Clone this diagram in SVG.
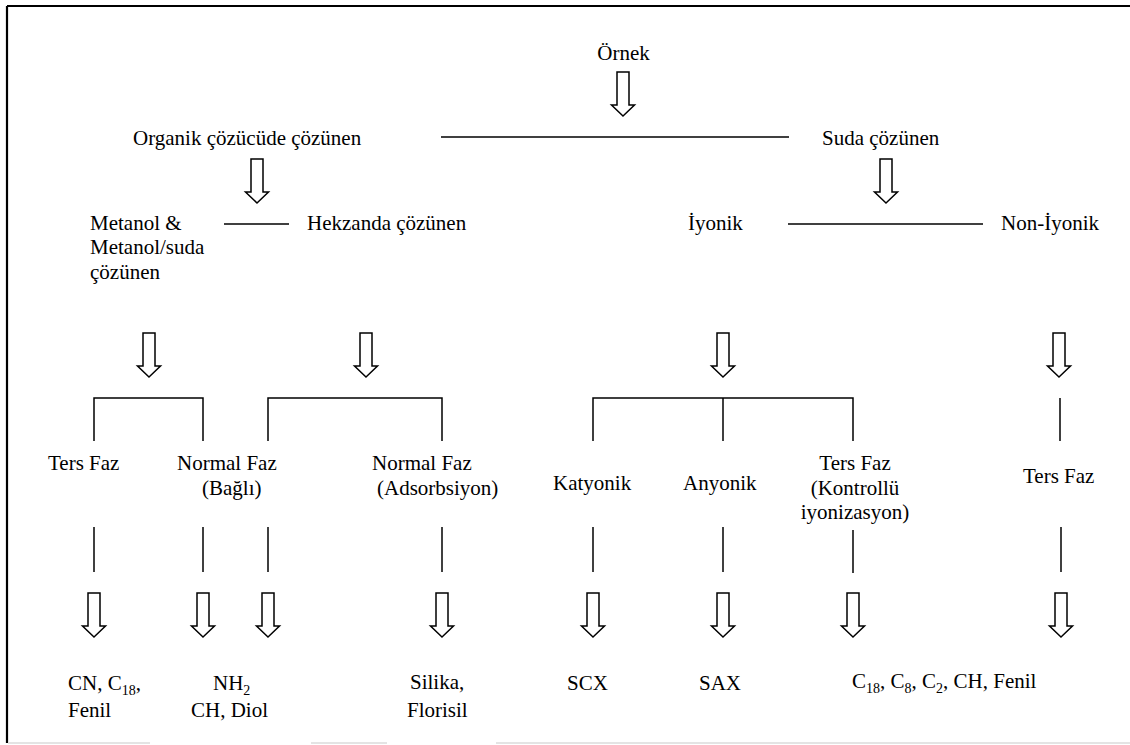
<svg xmlns="http://www.w3.org/2000/svg" xmlns:xlink="http://www.w3.org/1999/xlink" width="1130" height="745" viewBox="0 0 1130 745">
<style>
text{font-size:21px;fill:#000}
.m{text-anchor:middle}
.ln{stroke:#000;stroke-width:1.5;fill:none}
.sub{font-size:14px}
.arr{fill:#fff;stroke:#000;stroke-width:1.5;stroke-linejoin:miter}
</style>
<defs>
<path id="arrow" class="arr" d="M-6,0 H6 V33 H11.5 L0,44 L-11.5,33 H-6 Z"/>
</defs>
<rect width="1130" height="745" fill="#fff"/>
<g id="frame">
<line x1="7" y1="6" x2="1130" y2="6" stroke="#000" stroke-width="2.2"/>
<line x1="7" y1="6" x2="7" y2="743" stroke="#000" stroke-width="2.2"/>
<g stroke="#e4e4e4" stroke-width="2">
<line x1="8" y1="743" x2="150" y2="743"/>
<line x1="311" y1="743" x2="387" y2="743"/>
<line x1="496" y1="743" x2="1130" y2="743"/>
</g>
</g>
<g id="connectors">
<g class="ln">
<line x1="441" y1="137" x2="789" y2="137"/>
<line x1="224" y1="224" x2="289" y2="224"/>
<line x1="788" y1="224" x2="983" y2="224"/>
<polyline points="94,441 94,398 203,398 203,441"/>
<polyline points="268,441 268,398 442,398 442,441"/>
<polyline points="593,441 593,398 853,398 853,441"/>
<line x1="723" y1="398" x2="723" y2="441"/>
<line x1="1060" y1="398" x2="1060" y2="441"/>
<line x1="94" y1="527" x2="94" y2="572"/>
<line x1="203" y1="527" x2="203" y2="572"/>
<line x1="268" y1="527" x2="268" y2="572"/>
<line x1="442" y1="527" x2="442" y2="572"/>
<line x1="593" y1="527" x2="593" y2="572"/>
<line x1="723" y1="527" x2="723" y2="572"/>
<line x1="853" y1="530" x2="853" y2="573"/>
<line x1="1061" y1="527" x2="1061" y2="572"/>
</g>
<use xlink:href="#arrow" x="623" y="72"/>
<use xlink:href="#arrow" x="257" y="159"/>
<use xlink:href="#arrow" x="886" y="159"/>
<use xlink:href="#arrow" x="149" y="333"/>
<use xlink:href="#arrow" x="366" y="333"/>
<use xlink:href="#arrow" x="723" y="333"/>
<use xlink:href="#arrow" x="1059" y="333"/>
<use xlink:href="#arrow" x="94" y="593"/>
<use xlink:href="#arrow" x="203" y="593"/>
<use xlink:href="#arrow" x="268" y="593"/>
<use xlink:href="#arrow" x="442" y="593"/>
<use xlink:href="#arrow" x="593" y="593"/>
<use xlink:href="#arrow" x="723" y="593"/>
<use xlink:href="#arrow" x="853" y="593"/>
<use xlink:href="#arrow" x="1061" y="593"/>
</g>
<g font-family="Liberation Serif, DejaVu Serif, serif">
<g id="n-ornek"><text class="m" x="623.5" y="60">Örnek</text></g>
<g id="n-organik"><text x="133" y="145">Organik çözücüde çözünen</text></g>
<g id="n-suda"><text x="822" y="145">Suda çözünen</text></g>
<g id="n-metanol"><text x="90" y="230">Metanol &amp;</text><text x="90" y="254">Metanol/suda</text><text x="90" y="279">çözünen</text></g>
<g id="n-hekzan"><text x="307" y="230">Hekzanda çözünen</text></g>
<g id="n-iyonik"><text x="688" y="230">İyonik</text></g>
<g id="n-noniyonik"><text x="1001" y="230">Non-İyonik</text></g>
<g id="n-ters1"><text x="48" y="470">Ters Faz</text></g>
<g id="n-normal-bagli"><text x="177" y="470">Normal Faz</text><text x="202" y="495">(Bağlı)</text></g>
<g id="n-normal-ads"><text x="372" y="470">Normal Faz</text><text x="377" y="495">(Adsorbsiyon)</text></g>
<g id="n-katyonik"><text x="553" y="490">Katyonik</text></g>
<g id="n-anyonik"><text x="683" y="490">Anyonik</text></g>
<g id="n-ters-kontrol"><text class="m" x="855" y="470">Ters Faz</text><text class="m" x="855" y="495">(Kontrollü</text><text class="m" x="855" y="519">iyonizasyon)</text></g>
<g id="n-ters2"><text x="1023" y="483">Ters Faz</text></g>
<g id="n-cn"><text x="68" y="690">CN, C<tspan class="sub" dy="5">18</tspan><tspan dy="-5">,</tspan></text><text x="68" y="717">Fenil</text></g>
<g id="n-nh2"><text x="213" y="690">NH<tspan class="sub" dy="5">2</tspan></text><text x="191" y="717">CH, Diol</text></g>
<g id="n-silika"><text x="410" y="689">Silika,</text><text x="407" y="717">Florisil</text></g>
<g id="n-scx"><text x="567" y="690">SCX</text></g>
<g id="n-sax"><text x="699" y="690">SAX</text></g>
<g id="n-c18"><text x="852" y="688">C<tspan class="sub" dy="5">18</tspan><tspan dy="-5">, C</tspan><tspan class="sub" dy="5">8</tspan><tspan dy="-5">, C</tspan><tspan class="sub" dy="5">2</tspan><tspan dy="-5">, CH, Fenil</tspan></text></g>
</g>
</svg>
